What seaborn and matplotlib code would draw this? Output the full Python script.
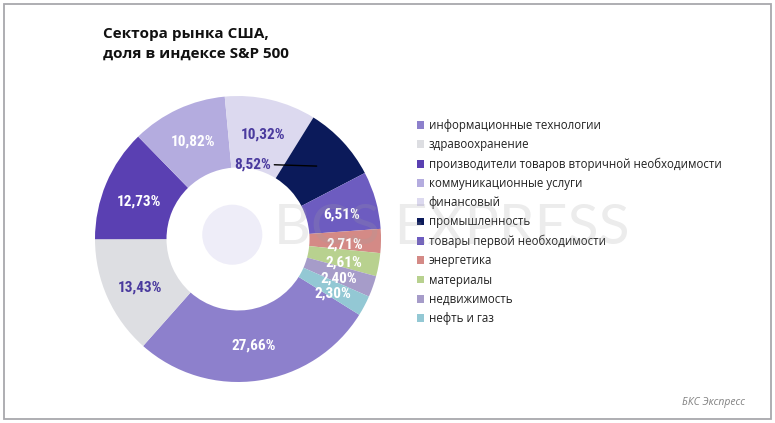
import numpy as np
import matplotlib
matplotlib.use("Agg")
import matplotlib.pyplot as plt
import seaborn as sns
from matplotlib import font_manager as fm
from matplotlib.patches import Rectangle, Circle

# ---- data ----
sectors = [
    "информационные технологии",
    "здравоохранение",
    "производители товаров вторичной необходимости",
    "коммуникационные услуги",
    "финансовый",
    "промышленность",
    "товары первой необходимости",
    "энергетика",
    "материалы",
    "недвижимость",
    "нефть и газ",
]
shares = [27.66, 13.43, 12.73, 10.82, 10.32, 8.52, 6.51, 2.71, 2.61, 2.40, 2.30]
share_labels = ["27,66%", "13,43%", "12,73%", "10,82%", "10,32%", "8,52%",
                "6,51%", "2,71%", "2,61%", "2,40%", "2,30%"]
colors = ["#8d80cc", "#dddee2", "#5a40b2", "#b4acdf", "#dcd9ef", "#0b1a5a",
          "#6d5cc0", "#d48a86", "#b8d18f", "#a69cc9", "#93c8d4"]
label_colors = ["white", "#4a3a9e", "white", "white", "#4a3a9e", "#4a3a9e",
                "white", "white", "white", "white", "white"]
title = "Сектора рынка США,\nдоля в индексе S&P 500"
source = "БКС Экспресс"
watermark = "BCS EXPRESS"

sns.set_theme(style="white")
plt.rcParams["font.family"] = ["Open Sans", "DejaVu Sans"]


def _wt(w):
    if isinstance(w, str):
        return fm.weight_dict.get(w, 400)
    return w


def _is_cond(f):
    s = f.stretch
    if isinstance(s, str):
        s = fm.stretch_dict.get(s, 500)
    return s < 500 or "ondensed" in f.name or "Narrow" in f.name


cands = [f for f in fm.fontManager.ttflist if _is_cond(f) and _wt(f.weight) >= 600
         and "Italic" not in f.fname and "Oblique" not in f.fname and f.style == "normal"]
cands.sort(key=lambda f: (0 if "Roboto" in f.name else 1 if "Noto" in f.name else 2,
                          abs(_wt(f.weight) - 700)))
if cands:
    lab_prop = fm.FontProperties(fname=cands[0].fname, size=11)
else:
    lab_prop = fm.FontProperties(family="DejaVu Sans", weight="bold", size=9)

W, H = 775, 423
fig = plt.figure(figsize=(W / 100, H / 100), dpi=100)
fig.patch.set_facecolor("white")

# frame around the figure
fig.add_artist(Rectangle((3.5 / W, 4.5 / H), (767 / W), (414 / H), transform=fig.transFigure,
                         fill=False, edgecolor="#a8a8ad", linewidth=1.3))

# pie axes
cx, cy, R = 238, 239, 143
ax = fig.add_axes([(cx - R) / W, (H - cy - R) / H, 2 * R / W, 2 * R / H])
wedges, _ = ax.pie(shares, colors=colors, startangle=-32, counterclock=False, radius=1,
                   wedgeprops=dict(width=0.5, edgecolor="none", linewidth=0))
ax.set_xlim(-1, 1)
ax.set_ylim(-1, 1)
ax.set_aspect("equal")
ax.axis("off")

# faint logo circle in the hole
ax.add_patch(Circle((-0.04, 0.03), 0.21, facecolor="#eeedf8", edgecolor="none", zorder=0.5))

for i, w in enumerate(wedges):
    mid = np.deg2rad((w.theta1 + w.theta2) / 2)
    r = 0.75
    x, y = r * np.cos(mid), r * np.sin(mid)
    if share_labels[i] == "8,52%":
        ax.annotate(share_labels[i], xy=(x, y), xytext=(-64, 2), textcoords="offset pixels",
                    ha="center", va="center", color=label_colors[i], fontproperties=lab_prop,
                    arrowprops=dict(arrowstyle="-", color="black", lw=1.0,
                                    shrinkA=0, shrinkB=0))
    else:
        y_adj = y - 0.03 if abs(np.cos(mid)) > 0.8 else y
        ax.text(x, y_adj, share_labels[i], ha="center", va="center",
                color=label_colors[i], fontproperties=lab_prop)

# watermark
fig.text(452 / W, 1 - 228 / H, watermark, ha="center", va="center", fontsize=41,
         color="#a0a0a0", alpha=0.2, family=["Lato", "DejaVu Sans"], fontweight="normal", zorder=10)

# title
fig.text(103 / W, 1 - 27 / H, title, ha="left", va="top", fontsize=11, fontweight="bold",
         color="#111111", linespacing=1.5)

# legend
leg = fig.legend(wedges, sectors, loc="upper left", bbox_to_anchor=(417 / W, 1 - 119 / H),
                 frameon=False, fontsize=8.3, handlelength=0.65, handleheight=0.65,
                 handletextpad=0.35, labelspacing=0.54, borderaxespad=0, borderpad=0)
for t in leg.get_texts():
    t.set_color("#222222")

# source
fig.text(745 / W, 1 - 402 / H, source, ha="right", va="center", fontsize=7.5,
         style="italic", color="#808080")

fig.savefig("out.png", dpi=100, facecolor="white")
